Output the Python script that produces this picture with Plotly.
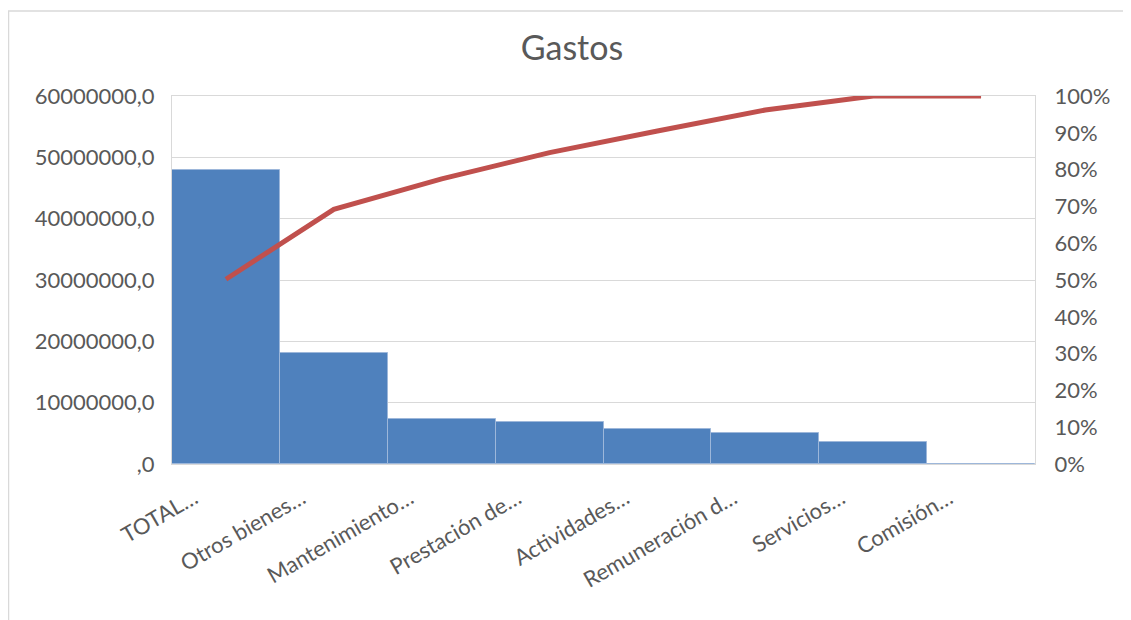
import plotly.graph_objects as go

categories = ["TOTAL…", "Otros bienes…", "Mantenimiento…", "Prestación de…",
              "Actividades…", "Remuneración d…", "Servicios…", "Comisión…"]
gastos = [47900000, 18100000, 7400000, 6800000, 5700000, 5100000, 3600000, 0]
acumulado = [0.502, 0.692, 0.775, 0.846, 0.905, 0.962, 1.0, 1.0]

left_ticks = [0, 10000000, 20000000, 30000000, 40000000, 50000000, 60000000]
left_text = [",0", "10000000,0", "20000000,0", "30000000,0", "40000000,0", "50000000,0", "60000000,0"]
right_ticks = [i / 10 for i in range(11)]
right_text = [f"{i*10}%" for i in range(11)]

FONT = "Lato, 'Open Sans', sans-serif"
GREY = "#595959"

fig = go.Figure()
fig.add_trace(go.Bar(x=categories, y=gastos, marker=dict(color="#4F81BD", line=dict(color="#9DB7DA", width=1)),
                     yaxis="y", showlegend=False))
fig.add_trace(go.Scatter(x=categories, y=acumulado, mode="lines", line=dict(color="#C0504D", width=5),
                         yaxis="y2", showlegend=False))

L, R, T, B = 164, 104, 88, 164
W, H = 1131, 620
pw, ph = W - L - R, H - T - B

fig.update_layout(
    width=W, height=H,
    margin=dict(l=L, r=R, t=T, b=B),
    paper_bgcolor="white", plot_bgcolor="white",
    bargap=0,
    title=dict(text="Gastos", x=564 / W, xanchor="center", y=1 - 40 / H, yanchor="middle",
               font=dict(family=FONT, size=34, color=GREY)),
    font=dict(family=FONT, color=GREY),
    xaxis=dict(tickangle=-30, tickfont=dict(size=22, color=GREY), showline=True, linecolor="#D9D9D9",
               linewidth=1, mirror=True, ticks="", showgrid=False, ticklabelstandoff=12, ticklabelshift=-32),
    yaxis=dict(range=[0, 60000000], tickvals=left_ticks, ticktext=left_text, tickfont=dict(size=22, color=GREY),
               gridcolor="#D9D9D9", gridwidth=1, zeroline=False, showline=True, linecolor="#D9D9D9", ticks="",
               ticklen=0, ticklabelstandoff=12),
    yaxis2=dict(range=[0, 1], overlaying="y", side="right", tickvals=right_ticks, ticktext=right_text,
                tickfont=dict(size=22, color=GREY), showgrid=False, zeroline=False, showline=True,
                linecolor="#D9D9D9", ticks="", ticklabelstandoff=14),
    shapes=[dict(type="rect", xref="paper", yref="paper",
                 x0=(0.5 - L) / pw, x1=(W + 20 - L) / pw, y0=-(H + 20 - (H - B)) / ph, y1=1 + (T - 3) / ph,
                 line=dict(color="#D9D9D9", width=1.5), fillcolor="rgba(0,0,0,0)", layer="below")],
)

fig.write_html("out.html")
